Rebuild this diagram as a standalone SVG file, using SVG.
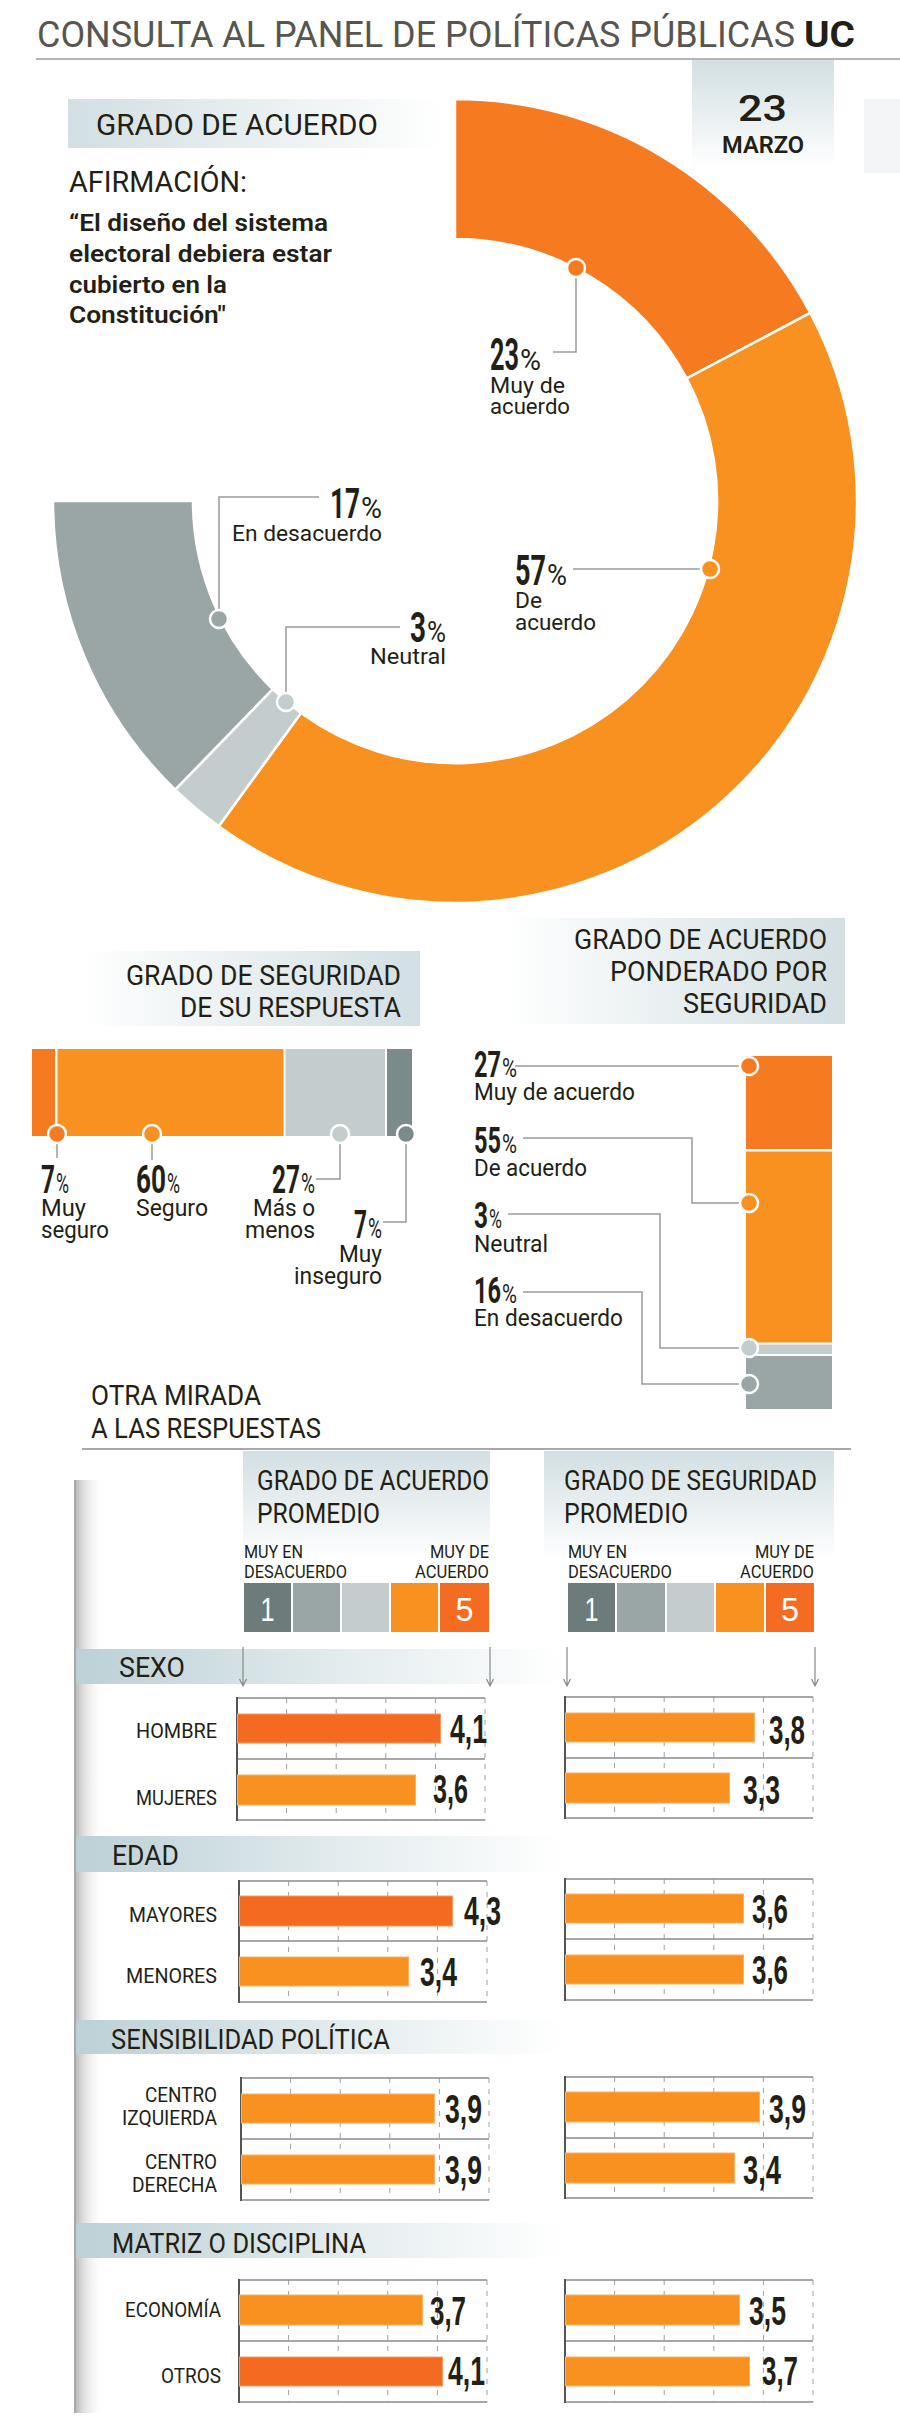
<svg xmlns="http://www.w3.org/2000/svg" width="900" height="2432" viewBox="0 0 900 2432">
<defs>
<style>
.t{font-family:"Roboto","Liberation Sans","DejaVu Sans",sans-serif;fill:#231f16}
.b{font-weight:700}
.m{font-weight:600}
.pc{font-family:"Roboto","Liberation Sans",sans-serif;fill:#231f16;font-size:30px}
.ld{fill:none;stroke:#9a9a9a;stroke-width:1.5}
.dot{stroke:#fff;stroke-width:2.5}
.seg{stroke:#fff;stroke-width:2.5}
.ax{stroke:#8a8a8a;stroke-width:1.5;fill:none}
.ax0{stroke:#555;stroke-width:2;fill:none}
.gd{stroke:#a0a0a0;stroke-width:1;stroke-dasharray:5 6;fill:none}
.bo{fill:#f8911f;stroke:#fbb063;stroke-width:1}
.br{fill:#f46a20;stroke:#f99a5f;stroke-width:1}
.val{font-family:"Liberation Sans","Roboto",sans-serif;font-weight:700;font-size:40px;fill:#231f16}
.row{font-family:"Roboto","Liberation Sans",sans-serif;font-size:21px;fill:#231f16}
.arr{stroke:#888;stroke-width:1.2;fill:none}
</style>
<linearGradient id="gL" x1="0" y1="0" x2="1" y2="0"><stop offset="0" stop-color="#d2dfe3"/><stop offset="1" stop-color="#ffffff"/></linearGradient>
<linearGradient id="gR" x1="0" y1="0" x2="1" y2="0"><stop offset="0" stop-color="#ffffff"/><stop offset="1" stop-color="#d2dfe3"/></linearGradient>
<linearGradient id="gV" x1="0" y1="0" x2="0" y2="1"><stop offset="0" stop-color="#d2dfe3"/><stop offset="1" stop-color="#ffffff"/></linearGradient>
<linearGradient id="gB" x1="0" y1="0" x2="1" y2="0"><stop offset="0" stop-color="#bcd0d6"/><stop offset="0.55" stop-color="#e3ecee"/><stop offset="1" stop-color="#ffffff"/></linearGradient>
<linearGradient id="gS" x1="0" y1="0" x2="1" y2="0"><stop offset="0" stop-color="#b5b5b5"/><stop offset="0.3" stop-color="#dcdcdc"/><stop offset="1" stop-color="#ffffff" stop-opacity="0"/></linearGradient>
</defs>
<rect width="900" height="2432" fill="#fff"/>

<g id="title">
<text class="t" x="37" y="47" font-size="36" style="fill:#58554f" textLength="758" lengthAdjust="spacingAndGlyphs">CONSULTA AL PANEL DE POLÍTICAS PÚBLICAS</text>
<text class="t b" x="804" y="47" font-size="36" textLength="51" lengthAdjust="spacingAndGlyphs">UC</text>
<rect x="36" y="58" width="864" height="2" fill="#b4b4b4"/>
</g>

<g id="date">
<rect x="692" y="60" width="142" height="108" fill="url(#gV)"/>
<rect x="864" y="99" width="36" height="74" fill="#f3f5f6"/>
<text class="t" x="738" y="121" font-size="36" font-weight="500" textLength="49" lengthAdjust="spacingAndGlyphs">23</text>
<text class="t m" x="722" y="153" font-size="24" textLength="82" lengthAdjust="spacingAndGlyphs">MARZO</text>
</g>

<g id="header-acuerdo">
<rect x="68" y="99" width="377" height="49" fill="url(#gL)"/>
<text class="t" x="96" y="135" font-size="30" textLength="282" lengthAdjust="spacingAndGlyphs">GRADO DE ACUERDO</text>
<text class="t" x="69" y="192" font-size="29" textLength="178" lengthAdjust="spacingAndGlyphs">AFIRMACIÓN:</text>
<text class="t m" x="69" y="231" font-size="23" textLength="259" lengthAdjust="spacingAndGlyphs">“El diseño del sistema</text>
<text class="t m" x="69" y="262" font-size="23" textLength="263" lengthAdjust="spacingAndGlyphs">electoral debiera estar</text>
<text class="t m" x="69" y="293" font-size="23" textLength="158" lengthAdjust="spacingAndGlyphs">cubierto en la</text>
<text class="t m" x="69" y="323" font-size="23" textLength="157" lengthAdjust="spacingAndGlyphs">Constitución"</text>
</g>

<g id="donut">
<path class="seg" fill="#f57a20" d="M455,99 A402,402 0 0 1 810.3,312.9 L686.6,378.4 A262,262 0 0 0 455,239 Z"/>
<path class="seg" fill="#f8911f" d="M810.3,312.9 A402,402 0 0 1 218.7,826.2 L301,713 A262,262 0 0 0 686.6,378.4 Z"/>
<path class="seg" fill="#c3cdce" d="M218.7,826.2 A402,402 0 0 1 175.2,789.7 L272.7,689.1 A262,262 0 0 0 301,713 Z"/>
<path class="seg" fill="#9aa6a6" d="M175.2,789.7 A402,402 0 0 1 53,501 L193,501 A262,262 0 0 0 272.7,689.1 Z"/>
</g>

<g id="label-23">
<text class="t b" x="490" y="370" font-size="44" textLength="29" lengthAdjust="spacingAndGlyphs">23</text>
<text class="pc" x="520" y="370" textLength="21" lengthAdjust="spacingAndGlyphs">%</text>
<text class="t" x="490" y="393" font-size="22" textLength="75" lengthAdjust="spacingAndGlyphs">Muy de</text>
<text class="t" x="490" y="414" font-size="22" textLength="80" lengthAdjust="spacingAndGlyphs">acuerdo</text>
</g>
<g id="label-57">
<text class="t b" x="515" y="585" font-size="43" textLength="31" lengthAdjust="spacingAndGlyphs">57</text>
<text class="pc" x="547" y="585" textLength="20" lengthAdjust="spacingAndGlyphs">%</text>
<text class="t" x="515" y="608" font-size="22" textLength="27" lengthAdjust="spacingAndGlyphs">De</text>
<text class="t" x="515" y="630" font-size="22" textLength="81" lengthAdjust="spacingAndGlyphs">acuerdo</text>
</g>
<g id="label-17">
<text class="t b" x="330" y="518" font-size="43" textLength="30" lengthAdjust="spacingAndGlyphs">17</text>
<text class="pc" x="361" y="518" textLength="21" lengthAdjust="spacingAndGlyphs">%</text>
<text class="t" x="232" y="541" font-size="22" textLength="150" lengthAdjust="spacingAndGlyphs">En desacuerdo</text>
</g>
<g id="label-3">
<text class="t b" x="410" y="642" font-size="43" textLength="16" lengthAdjust="spacingAndGlyphs">3</text>
<text class="pc" x="427" y="642" textLength="19" lengthAdjust="spacingAndGlyphs">%</text>
<text class="t" x="370" y="664" font-size="22" textLength="76" lengthAdjust="spacingAndGlyphs">Neutral</text>
</g>

<g id="header-seguridad">
<rect x="79" y="951" width="341" height="75" fill="url(#gR)"/>
<text class="t" x="126" y="985" font-size="28" textLength="275" lengthAdjust="spacingAndGlyphs">GRADO DE SEGURIDAD</text>
<text class="t" x="180" y="1017" font-size="28" textLength="221" lengthAdjust="spacingAndGlyphs">DE SU RESPUESTA</text>
</g>

<g id="header-ponderado">
<rect x="503" y="918" width="342" height="106" fill="url(#gR)"/>
<text class="t" x="574" y="949" font-size="28" textLength="253" lengthAdjust="spacingAndGlyphs">GRADO DE ACUERDO</text>
<text class="t" x="610" y="981" font-size="28" textLength="217" lengthAdjust="spacingAndGlyphs">PONDERADO POR</text>
<text class="t" x="683" y="1013" font-size="28" textLength="144" lengthAdjust="spacingAndGlyphs">SEGURIDAD</text>
</g>

<g id="bar-seguridad">
<rect x="32" y="1049" width="23" height="87" fill="#f57a20"/>
<rect x="57.5" y="1049" width="226" height="87" fill="#f8911f"/>
<rect x="285.5" y="1049" width="99.5" height="87" fill="#c3cdce"/>
<rect x="387" y="1049" width="25" height="87" fill="#7b8a8a"/>
</g>
<g id="seg-muy-seguro">
<text class="t b" x="41" y="1193" font-size="39" textLength="14" lengthAdjust="spacingAndGlyphs">7</text>
<text class="pc" x="56" y="1193" style="font-size:28px" textLength="13" lengthAdjust="spacingAndGlyphs">%</text>
<text class="t" x="41" y="1216" font-size="23" textLength="45" lengthAdjust="spacingAndGlyphs">Muy</text>
<text class="t" x="41" y="1238" font-size="23" textLength="68" lengthAdjust="spacingAndGlyphs">seguro</text>
</g>
<g id="seg-seguro">
<text class="t b" x="136" y="1193" font-size="39" textLength="30" lengthAdjust="spacingAndGlyphs">60</text>
<text class="pc" x="167" y="1193" style="font-size:28px" textLength="13" lengthAdjust="spacingAndGlyphs">%</text>
<text class="t" x="136" y="1216" font-size="23" textLength="72" lengthAdjust="spacingAndGlyphs">Seguro</text>
</g>
<g id="seg-mas-o-menos">
<text class="t b" x="272" y="1193" font-size="39" textLength="28" lengthAdjust="spacingAndGlyphs">27</text>
<text class="pc" x="301" y="1193" style="font-size:28px" textLength="14" lengthAdjust="spacingAndGlyphs">%</text>
<text class="t" x="253" y="1216" font-size="23" textLength="62" lengthAdjust="spacingAndGlyphs">Más o</text>
<text class="t" x="245" y="1238" font-size="23" textLength="70" lengthAdjust="spacingAndGlyphs">menos</text>
</g>
<g id="seg-muy-inseguro">
<text class="t b" x="354" y="1238" font-size="39" textLength="13" lengthAdjust="spacingAndGlyphs">7</text>
<text class="pc" x="368" y="1238" style="font-size:28px" textLength="14" lengthAdjust="spacingAndGlyphs">%</text>
<text class="t" x="339" y="1262" font-size="23" textLength="43" lengthAdjust="spacingAndGlyphs">Muy</text>
<text class="t" x="294" y="1284" font-size="23" textLength="88" lengthAdjust="spacingAndGlyphs">inseguro</text>
</g>

<g id="bar-ponderado">
<rect x="746" y="1056" width="86" height="93" fill="#f57a20"/>
<rect x="746" y="1151.5" width="86" height="191" fill="#f8911f"/>
<rect x="746" y="1344.5" width="86" height="9.5" fill="#c3cdce"/>
<rect x="746" y="1356" width="86" height="53" fill="#9aa6a6"/>
</g>
<g id="pond-27">
<text class="t b" x="474" y="1077" font-size="37" textLength="27" lengthAdjust="spacingAndGlyphs">27</text>
<text class="pc" x="502" y="1077" style="font-size:26px" textLength="15" lengthAdjust="spacingAndGlyphs">%</text>
<text class="t" x="474" y="1100" font-size="23" textLength="161" lengthAdjust="spacingAndGlyphs">Muy de acuerdo</text>
</g>
<g id="pond-55">
<text class="t b" x="474" y="1153" font-size="37" textLength="27" lengthAdjust="spacingAndGlyphs">55</text>
<text class="pc" x="502" y="1153" style="font-size:26px" textLength="15" lengthAdjust="spacingAndGlyphs">%</text>
<text class="t" x="474" y="1176" font-size="23" textLength="113" lengthAdjust="spacingAndGlyphs">De acuerdo</text>
</g>
<g id="pond-3">
<text class="t b" x="474" y="1228" font-size="37" textLength="14" lengthAdjust="spacingAndGlyphs">3</text>
<text class="pc" x="489" y="1228" style="font-size:26px" textLength="13" lengthAdjust="spacingAndGlyphs">%</text>
<text class="t" x="474" y="1252" font-size="23" textLength="74" lengthAdjust="spacingAndGlyphs">Neutral</text>
</g>
<g id="pond-16">
<text class="t b" x="474" y="1303" font-size="37" textLength="27" lengthAdjust="spacingAndGlyphs">16</text>
<text class="pc" x="502" y="1303" style="font-size:26px" textLength="15" lengthAdjust="spacingAndGlyphs">%</text>
<text class="t" x="474" y="1326" font-size="23" textLength="149" lengthAdjust="spacingAndGlyphs">En desacuerdo</text>
</g>

<g id="otra-mirada">
<text class="t" x="91" y="1405" font-size="28" textLength="170" lengthAdjust="spacingAndGlyphs">OTRA MIRADA</text>
<text class="t" x="91" y="1438" font-size="28" textLength="230" lengthAdjust="spacingAndGlyphs">A LAS RESPUESTAS</text>
<rect x="82" y="1448" width="769" height="2" fill="#a8a8a8"/>
<rect x="74" y="1480" width="30" height="933" fill="url(#gS)"/>
<rect x="74" y="1480" width="2" height="933" fill="#a9a9a9"/>
</g>

<g id="col-acuerdo">
<rect x="243" y="1451" width="247" height="109" fill="url(#gV)"/>
<text class="t" x="257" y="1490" font-size="28" textLength="232" lengthAdjust="spacingAndGlyphs">GRADO DE ACUERDO</text>
<text class="t" x="257" y="1523" font-size="28" textLength="123" lengthAdjust="spacingAndGlyphs">PROMEDIO</text>
<text class="t" x="244" y="1558" font-size="18" textLength="59" lengthAdjust="spacingAndGlyphs">MUY EN</text>
<text class="t" x="244" y="1578" font-size="18" textLength="103" lengthAdjust="spacingAndGlyphs">DESACUERDO</text>
<text class="t" x="430" y="1558" font-size="18" textLength="59" lengthAdjust="spacingAndGlyphs">MUY DE</text>
<text class="t" x="415" y="1578" font-size="18" textLength="74" lengthAdjust="spacingAndGlyphs">ACUERDO</text>
<rect x="244" y="1583" width="47" height="49" fill="#6e7b7b"/>
<rect x="293" y="1583" width="47" height="49" fill="#9aa6a6"/>
<rect x="342" y="1583" width="47" height="49" fill="#c3cdce"/>
<rect x="391" y="1583" width="47" height="49" fill="#f8911f"/>
<rect x="440" y="1583" width="49" height="49" fill="#f36c21"/>
<text x="267.5" y="1621" font-family="Liberation Sans, Roboto, sans-serif" font-size="34" fill="#fff" text-anchor="middle" textLength="14" lengthAdjust="spacingAndGlyphs">1</text>
<text x="464.5" y="1621" font-family="Liberation Sans, Roboto, sans-serif" font-size="34" fill="#fff" text-anchor="middle" textLength="18" lengthAdjust="spacingAndGlyphs">5</text>
</g>

<g id="col-seguridad">
<rect x="544" y="1451" width="290" height="109" fill="url(#gV)"/>
<text class="t" x="564" y="1490" font-size="28" textLength="253" lengthAdjust="spacingAndGlyphs">GRADO DE SEGURIDAD</text>
<text class="t" x="564" y="1523" font-size="28" textLength="124" lengthAdjust="spacingAndGlyphs">PROMEDIO</text>
<text class="t" x="568" y="1558" font-size="18" textLength="59" lengthAdjust="spacingAndGlyphs">MUY EN</text>
<text class="t" x="568" y="1578" font-size="18" textLength="104" lengthAdjust="spacingAndGlyphs">DESACUERDO</text>
<text class="t" x="755" y="1558" font-size="18" textLength="59" lengthAdjust="spacingAndGlyphs">MUY DE</text>
<text class="t" x="740" y="1578" font-size="18" textLength="74" lengthAdjust="spacingAndGlyphs">ACUERDO</text>
<rect x="568" y="1583" width="47" height="49" fill="#6e7b7b"/>
<rect x="617" y="1583" width="48" height="49" fill="#9aa6a6"/>
<rect x="667" y="1583" width="47" height="49" fill="#c3cdce"/>
<rect x="716" y="1583" width="48" height="49" fill="#f8911f"/>
<rect x="766" y="1583" width="48" height="49" fill="#f36c21"/>
<text x="591.5" y="1621" font-family="Liberation Sans, Roboto, sans-serif" font-size="34" fill="#fff" text-anchor="middle" textLength="14" lengthAdjust="spacingAndGlyphs">1</text>
<text x="790" y="1621" font-family="Liberation Sans, Roboto, sans-serif" font-size="34" fill="#fff" text-anchor="middle" textLength="18" lengthAdjust="spacingAndGlyphs">5</text>
</g>

<g id="band-sexo">
<rect x="76" y="1649" width="486" height="35" fill="url(#gB)"/>
<text class="t" x="119" y="1677" font-size="27" textLength="66" lengthAdjust="spacingAndGlyphs">SEXO</text>
</g>

<g id="chart-sexo-acuerdo">
<path class="gd" d="M286.6,1698 V1820 M336.2,1698 V1820 M385.8,1698 V1820 M435.4,1698 V1820 M485,1698 V1820"/>
<path class="ax" d="M237,1698 H485 M237,1759 H485 M237,1820 H485"/>
<path class="ax0" d="M237,1697 V1821"/>
<rect class="br" x="237.5" y="1714" width="203" height="29"/>
<rect class="bo" x="237.5" y="1775" width="178" height="30"/>
<text class="row" x="136" y="1738" textLength="81" lengthAdjust="spacingAndGlyphs">HOMBRE</text>
<text class="row" x="136" y="1805" textLength="81" lengthAdjust="spacingAndGlyphs">MUJERES</text>
<text class="val" x="450" y="1743" textLength="37" lengthAdjust="spacingAndGlyphs">4,1</text>
<text class="val" x="433" y="1803" textLength="35" lengthAdjust="spacingAndGlyphs">3,6</text>
</g>
<g id="chart-sexo-seguridad">
<path class="gd" d="M614.6,1697 V1818 M664.2,1697 V1818 M713.8,1697 V1818 M763.4,1697 V1818 M813,1697 V1818"/>
<path class="ax" d="M565,1697 H813 M565,1758 H813 M565,1818 H813"/>
<path class="ax0" d="M565,1696 V1819"/>
<rect class="bo" x="565.5" y="1713" width="189" height="29"/>
<rect class="bo" x="565.5" y="1773" width="164" height="30"/>
<text class="val" x="769" y="1744" textLength="36" lengthAdjust="spacingAndGlyphs">3,8</text>
<text class="val" x="743" y="1804" textLength="37" lengthAdjust="spacingAndGlyphs">3,3</text>
</g>

<g id="band-edad">
<rect x="76" y="1836" width="486" height="36" fill="url(#gB)"/>
<text class="t" x="112" y="1865" font-size="27" textLength="67" lengthAdjust="spacingAndGlyphs">EDAD</text>
</g>

<g id="chart-edad-acuerdo">
<path class="gd" d="M288.6,1881 V2002 M338.2,1881 V2002 M387.8,1881 V2002 M437.4,1881 V2002 M487,1881 V2002"/>
<path class="ax" d="M239,1881 H487 M239,1941 H487 M239,2002 H487"/>
<path class="ax0" d="M239,1880 V2003"/>
<rect class="br" x="239.5" y="1896" width="213" height="30"/>
<rect class="bo" x="239.5" y="1957" width="169" height="29"/>
<text class="row" x="129" y="1922" textLength="88" lengthAdjust="spacingAndGlyphs">MAYORES</text>
<text class="row" x="126" y="1983" textLength="91" lengthAdjust="spacingAndGlyphs">MENORES</text>
<text class="val" x="464" y="1925" textLength="37" lengthAdjust="spacingAndGlyphs">4,3</text>
<text class="val" x="420" y="1986" textLength="37" lengthAdjust="spacingAndGlyphs">3,4</text>
</g>
<g id="chart-edad-seguridad">
<path class="gd" d="M614.6,1879 V2000 M664.2,1879 V2000 M713.8,1879 V2000 M763.4,1879 V2000 M813,1879 V2000"/>
<path class="ax" d="M565,1879 H813 M565,1939 H813 M565,2000 H813"/>
<path class="ax0" d="M565,1878 V2001"/>
<rect class="bo" x="565.5" y="1894" width="178" height="29"/>
<rect class="bo" x="565.5" y="1955" width="178" height="29"/>
<text class="val" x="752" y="1923" textLength="36" lengthAdjust="spacingAndGlyphs">3,6</text>
<text class="val" x="752" y="1984" textLength="36" lengthAdjust="spacingAndGlyphs">3,6</text>
</g>

<g id="band-sensibilidad">
<rect x="76" y="2020" width="486" height="34" fill="url(#gB)"/>
<text class="t" x="111" y="2049" font-size="27" textLength="279" lengthAdjust="spacingAndGlyphs">SENSIBILIDAD POLÍTICA</text>
</g>

<g id="chart-sens-acuerdo">
<path class="gd" d="M290.6,2078 V2200 M340.2,2078 V2200 M389.8,2078 V2200 M439.4,2078 V2200 M489,2078 V2200"/>
<path class="ax" d="M241,2078 H489 M241,2139 H489 M241,2200 H489"/>
<path class="ax0" d="M241,2077 V2201"/>
<rect class="bo" x="241.5" y="2094" width="193" height="29"/>
<rect class="bo" x="241.5" y="2155" width="193" height="29"/>
<text class="row" x="145" y="2102" textLength="72" lengthAdjust="spacingAndGlyphs">CENTRO</text>
<text class="row" x="122" y="2125" textLength="95" lengthAdjust="spacingAndGlyphs">IZQUIERDA</text>
<text class="row" x="145" y="2169" textLength="72" lengthAdjust="spacingAndGlyphs">CENTRO</text>
<text class="row" x="132" y="2192" textLength="85" lengthAdjust="spacingAndGlyphs">DERECHA</text>
<text class="val" x="445" y="2123" textLength="37" lengthAdjust="spacingAndGlyphs">3,9</text>
<text class="val" x="445" y="2184" textLength="37" lengthAdjust="spacingAndGlyphs">3,9</text>
</g>
<g id="chart-sens-seguridad">
<path class="gd" d="M614.6,2077 V2198 M664.2,2077 V2198 M713.8,2077 V2198 M763.4,2077 V2198 M813,2077 V2198"/>
<path class="ax" d="M565,2077 H813 M565,2138 H813 M565,2198 H813"/>
<path class="ax0" d="M565,2076 V2199"/>
<rect class="bo" x="565.5" y="2092" width="194" height="30"/>
<rect class="bo" x="565.5" y="2153" width="169" height="30"/>
<text class="val" x="769" y="2123" textLength="37" lengthAdjust="spacingAndGlyphs">3,9</text>
<text class="val" x="743" y="2184" textLength="38" lengthAdjust="spacingAndGlyphs">3,4</text>
</g>

<g id="band-matriz">
<rect x="76" y="2223" width="486" height="35" fill="url(#gB)"/>
<text class="t" x="112" y="2253" font-size="27" textLength="254" lengthAdjust="spacingAndGlyphs">MATRIZ O DISCIPLINA</text>
</g>

<g id="chart-matriz-acuerdo">
<path class="gd" d="M288.6,2280 V2402 M338.2,2280 V2402 M387.8,2280 V2402 M437.4,2280 V2402 M487,2280 V2402"/>
<path class="ax" d="M239,2280 H487 M239,2341 H487 M239,2402 H487"/>
<path class="ax0" d="M239,2279 V2403"/>
<rect class="bo" x="239.5" y="2295" width="183" height="30"/>
<rect class="br" x="239.5" y="2357" width="203" height="29"/>
<text class="row" x="125" y="2317" textLength="96" lengthAdjust="spacingAndGlyphs">ECONOMÍA</text>
<text class="row" x="161" y="2383" textLength="60" lengthAdjust="spacingAndGlyphs">OTROS</text>
<text class="val" x="430" y="2325" textLength="36" lengthAdjust="spacingAndGlyphs">3,7</text>
<text class="val" x="448" y="2385" textLength="37" lengthAdjust="spacingAndGlyphs">4,1</text>
</g>
<g id="chart-matriz-seguridad">
<path class="gd" d="M614.6,2280 V2402 M664.2,2280 V2402 M713.8,2280 V2402 M763.4,2280 V2402 M813,2280 V2402"/>
<path class="ax" d="M565,2280 H813 M565,2341 H813 M565,2402 H813"/>
<path class="ax0" d="M565,2279 V2403"/>
<rect class="bo" x="565.5" y="2295" width="174" height="30"/>
<rect class="bo" x="565.5" y="2357" width="184" height="29"/>
<text class="val" x="749" y="2325" textLength="37" lengthAdjust="spacingAndGlyphs">3,5</text>
<text class="val" x="762" y="2385" textLength="36" lengthAdjust="spacingAndGlyphs">3,7</text>
</g>

<g id="connectors">
<path class="ld" d="M576,278 V352 H553"/>
<path class="ld" d="M700,569 H573"/>
<path class="ld" d="M219,609 V497 H319"/>
<path class="ld" d="M286,692 V627 H400"/>
<path class="ld" d="M57,1143 V1158"/>
<path class="ld" d="M152,1143 V1160"/>
<path class="ld" d="M340,1143 V1179 H316"/>
<path class="ld" d="M406,1143 V1222 H383"/>
<path class="ld" d="M740,1066 H515"/>
<path class="ld" d="M740,1203 H692 V1138 H523"/>
<path class="ld" d="M740,1348 H660 V1214 H508"/>
<path class="ld" d="M740,1384 H642 V1292 H523"/>
<path class="arr" d="M243,1647 V1686 M239.5,1679 L243,1686 L246.5,1679"/>
<path class="arr" d="M490,1647 V1686 M486.5,1679 L490,1686 L493.5,1679"/>
<path class="arr" d="M567,1647 V1686 M563.5,1679 L567,1686 L570.5,1679"/>
<path class="arr" d="M815,1647 V1686 M811.5,1679 L815,1686 L818.5,1679"/>
</g>

<g id="dots">
<circle class="dot" cx="576" cy="268" r="9" fill="#f57a20"/>
<circle class="dot" cx="710" cy="569" r="9" fill="#f8911f"/>
<circle class="dot" cx="219" cy="619" r="9" fill="#9aa6a6"/>
<circle class="dot" cx="286" cy="702" r="9" fill="#c3cdce"/>
<circle class="dot" cx="57" cy="1134" r="9" fill="#f57a20"/>
<circle class="dot" cx="152" cy="1134" r="9" fill="#f8911f"/>
<circle class="dot" cx="340" cy="1134" r="9" fill="#c3cdce"/>
<circle class="dot" cx="406" cy="1134" r="9" fill="#7b8a8a"/>
<circle class="dot" cx="749" cy="1066" r="9" fill="#f57a20"/>
<circle class="dot" cx="749" cy="1203" r="9" fill="#f8911f"/>
<circle class="dot" cx="749" cy="1348" r="9" fill="#c3cdce"/>
<circle class="dot" cx="749" cy="1384" r="9" fill="#9aa6a6"/>
</g>
</svg>
